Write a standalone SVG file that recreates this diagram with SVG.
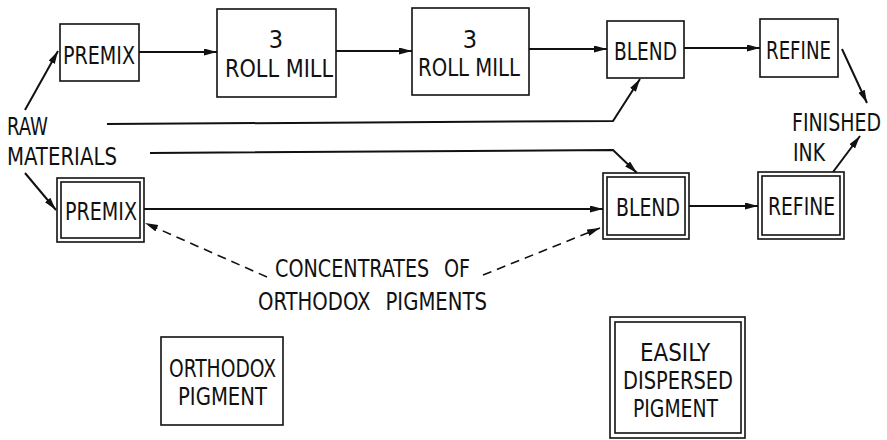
<svg xmlns="http://www.w3.org/2000/svg" width="887" height="440" viewBox="0 0 887 440">
<style>
.box{fill:#fff;stroke:#111;stroke-width:1.6}
.t{font-family:"DejaVu Sans Condensed","Liberation Sans Narrow","Liberation Sans",sans-serif;font-size:25px;fill:#111}
.c{stroke:#111;stroke-width:2;fill:none}
.d{stroke:#111;stroke-width:1.6;fill:none;stroke-dasharray:9 6}
</style>
<defs>
<marker id="ah" markerUnits="userSpaceOnUse" markerWidth="14" markerHeight="8" refX="13" refY="3.5" orient="auto">
<path d="M0,0 L13,3.5 L0,7 z" fill="#111"/>
</marker>
</defs>
<rect width="887" height="440" fill="#fff"/>
<g id="connectors">
<line class="c" x1="25" y1="110" x2="58" y2="51" marker-end="url(#ah)"/>
<line class="c" x1="139" y1="52" x2="217" y2="52" marker-end="url(#ah)"/>
<line class="c" x1="336" y1="51" x2="412" y2="51" marker-end="url(#ah)"/>
<line class="c" x1="529" y1="49" x2="607" y2="49" marker-end="url(#ah)"/>
<line class="c" x1="684" y1="48" x2="760" y2="48" marker-end="url(#ah)"/>
<line class="c" x1="842" y1="49" x2="867" y2="103" marker-end="url(#ah)"/>
<polyline class="c" points="107,124 613,121 640,79" marker-end="url(#ah)"/>
<polyline class="c" points="150,153 613,150 637,173" marker-end="url(#ah)"/>
<line class="c" x1="25" y1="173" x2="56" y2="210" marker-end="url(#ah)"/>
<line class="c" x1="144" y1="209" x2="603" y2="209" marker-end="url(#ah)"/>
<line class="c" x1="689" y1="206" x2="758" y2="206" marker-end="url(#ah)"/>
<line class="c" x1="833" y1="172" x2="860" y2="136" marker-end="url(#ah)"/>
<line class="d" x1="267" y1="277" x2="145" y2="223" marker-end="url(#ah)"/>
<line class="d" x1="483" y1="275" x2="600" y2="228" marker-end="url(#ah)"/>
</g>
<g id="premix1">
<rect class="box" x="60" y="24" width="79" height="57"/>
<text class="t" x="63" y="64" textLength="72" lengthAdjust="spacingAndGlyphs">PREMIX</text>
</g>
<g id="mill1">
<rect class="box" x="217" y="9" width="119" height="88"/>
<text class="t" x="276" y="48" text-anchor="middle">3</text>
<text class="t" x="225" y="77" textLength="108" lengthAdjust="spacingAndGlyphs">ROLL MILL</text>
</g>
<g id="mill2">
<rect class="box" x="412" y="8" width="117" height="87"/>
<text class="t" x="470" y="48" text-anchor="middle">3</text>
<text class="t" x="418" y="76" textLength="102" lengthAdjust="spacingAndGlyphs">ROLL MILL</text>
</g>
<g id="blend1">
<rect class="box" x="607" y="21" width="77" height="57"/>
<text class="t" x="614" y="60" textLength="63" lengthAdjust="spacingAndGlyphs">BLEND</text>
</g>
<g id="refine1">
<rect class="box" x="760" y="19" width="78" height="58"/>
<text class="t" x="766" y="59" textLength="65" lengthAdjust="spacingAndGlyphs">REFINE</text>
</g>
<g id="premix2">
<rect class="box" x="57" y="178" width="87" height="64"/>
<rect class="box" x="61" y="182" width="79" height="56"/>
<text class="t" x="65" y="220" textLength="72" lengthAdjust="spacingAndGlyphs">PREMIX</text>
</g>
<g id="blend2">
<rect class="box" x="603" y="173" width="86" height="66"/>
<rect class="box" x="607" y="177" width="78" height="58"/>
<text class="t" x="616" y="216" textLength="64" lengthAdjust="spacingAndGlyphs">BLEND</text>
</g>
<g id="refine2">
<rect class="box" x="758" y="172" width="86" height="67"/>
<rect class="box" x="762" y="176" width="78" height="59"/>
<text class="t" x="768" y="215" textLength="67" lengthAdjust="spacingAndGlyphs">REFINE</text>
</g>
<g id="raw-materials">
<text class="t" x="7" y="135" textLength="41" lengthAdjust="spacingAndGlyphs">RAW</text>
<text class="t" x="7" y="165" textLength="110" lengthAdjust="spacingAndGlyphs">MATERIALS</text>
</g>
<g id="finished-ink">
<text class="t" transform="translate(792,131) scale(1,1.16)" x="0" y="0" style="font-size:21.5px" textLength="89" lengthAdjust="spacingAndGlyphs">FINISHED</text>
<text class="t" x="793" y="161" textLength="32" lengthAdjust="spacingAndGlyphs">INK</text>
</g>
<g id="concentrates">
<text class="t" x="275" y="277" word-spacing="10" textLength="195" lengthAdjust="spacingAndGlyphs">CONCENTRATES OF</text>
<text class="t" x="258" y="310" word-spacing="10" textLength="229" lengthAdjust="spacingAndGlyphs">ORTHODOX PIGMENTS</text>
</g>
<g id="legend-orthodox">
<rect class="box" x="161" y="337" width="122" height="88"/>
<text class="t" x="169" y="377" textLength="107" lengthAdjust="spacingAndGlyphs">ORTHODOX</text>
<text class="t" x="178" y="405" textLength="89" lengthAdjust="spacingAndGlyphs">PIGMENT</text>
</g>
<g id="legend-easily">
<rect class="box" x="610" y="317" width="135" height="121"/>
<rect class="box" x="615" y="322" width="126" height="111"/>
<text class="t" x="640" y="361" textLength="70" lengthAdjust="spacingAndGlyphs">EASILY</text>
<text class="t" x="623" y="389" textLength="110" lengthAdjust="spacingAndGlyphs">DISPERSED</text>
<text class="t" x="633" y="417" textLength="85" lengthAdjust="spacingAndGlyphs">PIGMENT</text>
</g>
</svg>
